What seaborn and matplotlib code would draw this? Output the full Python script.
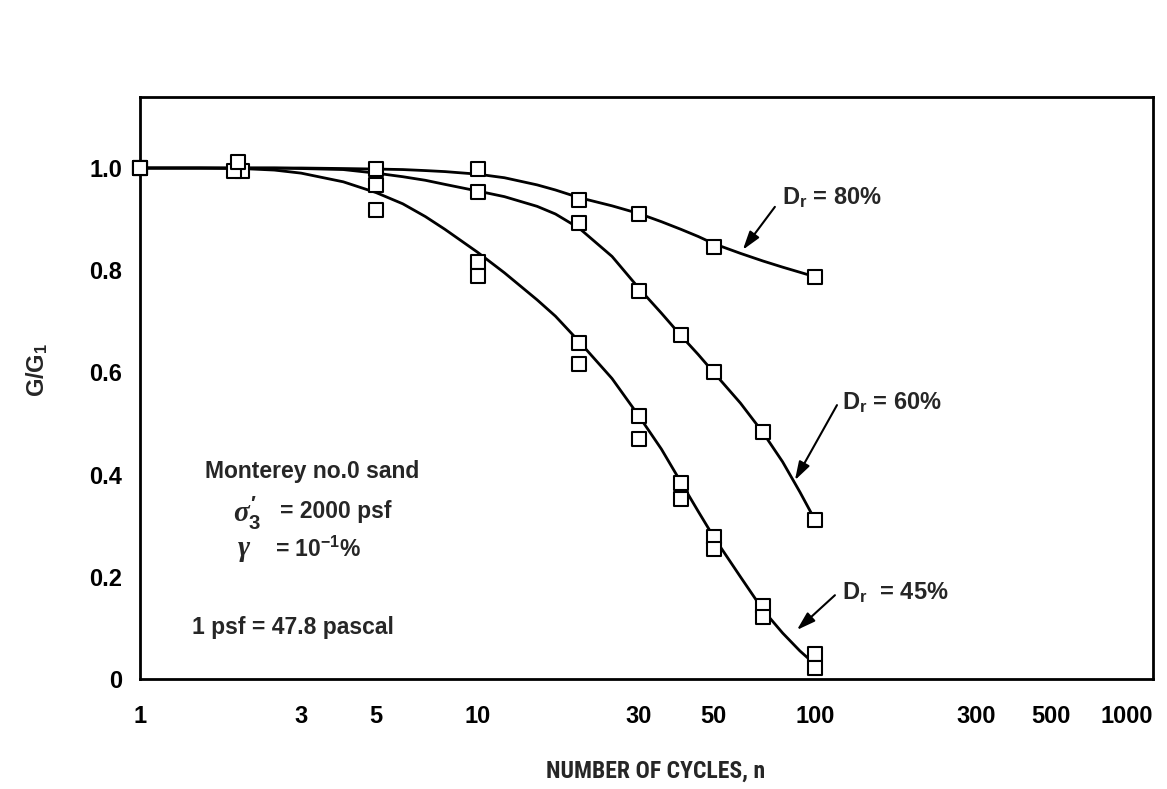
import matplotlib
matplotlib.use("Agg")
import matplotlib.pyplot as plt
import seaborn as sns

# ---- measured points: G/G1 versus number of cycles --------------------------
cycles_80 = [1, 2.0, 5, 10, 20, 30, 50, 100]
g_80 = [1.0, 0.995, 0.998, 0.998, 0.937, 0.910, 0.845, 0.787]

cycles_60 = [1, 1.9, 5, 10, 20, 30, 40, 50, 70, 100]
g_60 = [1.0, 0.995, 0.967, 0.953, 0.892, 0.759, 0.673, 0.601, 0.484, 0.311]

cycles_45 = [1, 1.95, 5, 10, 10, 20, 20, 30, 30, 40, 40, 50, 50, 70, 70, 100, 100]
g_45 = [1.0, 1.012, 0.918, 0.816, 0.789, 0.658, 0.616, 0.515, 0.470,
        0.384, 0.352, 0.278, 0.254, 0.143, 0.121, 0.049, 0.022]

# ---- fitted curves ---------------------------------------------------------
curve_cycles = [1, 1.5, 2, 2.5, 3, 4, 5, 6, 7, 8, 10, 12, 15, 17, 20, 25,
                30, 35, 40, 45, 50, 60, 70, 80, 90, 100]
curve_80 = [1.0, 1.0, 1.0, 1.0, 1.0, 0.999, 0.998, 0.997, 0.995, 0.993,
            0.988, 0.981, 0.967, 0.957, 0.942, 0.926, 0.911, 0.895, 0.880,
            0.866, 0.852, 0.833, 0.818, 0.806, 0.796, 0.787]
curve_60 = [1.0, 1.0, 1.0, 1.0, 0.999, 0.997, 0.990, 0.983, 0.976, 0.968,
            0.955, 0.944, 0.925, 0.910, 0.882, 0.827, 0.765, 0.716, 0.672,
            0.635, 0.600, 0.540, 0.482, 0.425, 0.366, 0.310]
curve_45 = [1.0, 1.0, 0.999, 0.996, 0.990, 0.973, 0.952, 0.930, 0.905,
            0.880, 0.835, 0.795, 0.742, 0.710, 0.660, 0.588, 0.515, 0.450,
            0.385, 0.328, 0.278, 0.200, 0.135, 0.090, 0.055, 0.028]

# ---- axes labels ------------------------------------------------------------
x_major = [1, 10, 100, 1000]
x_major_labels = ["1", "10", "100", "1000"]
x_minor = [3, 5, 30, 50, 300, 500]
x_minor_labels = ["3", "5", "30", "50", "300", "500"]
y_ticks = [0, 0.2, 0.4, 0.6, 0.8, 1.0]
y_tick_labels = ["0", "0.2", "0.4", "0.6", "0.8", "1.0"]

# label text, arrow tail and arrow head for each relative density
dr_labels = [r"D$_{r}$ = 80%", r"D$_{r}$ = 60%", r"D$_{r}$  = 45%"]
dr_label_pos = [(79.7, 0.943), (119.9, 0.542), (119.9, 0.170)]
dr_arrow_tail = [(75.9, 0.924), (115.9, 0.536), (114.3, 0.164)]
dr_arrow_head = [(61.0, 0.840), (87.0, 0.389), (88.2, 0.096)]

NARROW = ["Liberation Sans Narrow", "Roboto Condensed", "Open Sans Condensed",
          "Liberation Sans"]

sns.set_style("white")
plt.rcParams["font.family"] = ["Liberation Sans", "DejaVu Sans"]
plt.rcParams["font.weight"] = "bold"
plt.rcParams["mathtext.fontset"] = "custom"
plt.rcParams["mathtext.rm"] = "Liberation Sans:bold"
plt.rcParams["mathtext.bf"] = "Liberation Sans:bold"
plt.rcParams["mathtext.it"] = "Liberation Serif:italic"
plt.rcParams["mathtext.default"] = "bf"

fig = plt.figure(figsize=(11.67, 7.89), dpi=100)
fig.patch.set_facecolor("white")
ax = fig.add_axes([140 / 1167, 110 / 789, 1013 / 1167, 582 / 789])

ax.set_xscale("log")
ax.set_xlim(1, 1000)
ax.set_ylim(0, 1.139)

for yv in (curve_80, curve_60, curve_45):
    sns.lineplot(x=curve_cycles, y=yv, color="black", linewidth=2.0,
                 sort=False, estimator=None, ax=ax, zorder=2)

for xv, yv in ((cycles_80, g_80), (cycles_60, g_60), (cycles_45, g_45)):
    sns.scatterplot(x=xv, y=yv, marker="s", s=95, color="white",
                    edgecolor="black", linewidth=1.5, ax=ax, zorder=3,
                    clip_on=False)

for text, pos, tail, head in zip(dr_labels, dr_label_pos, dr_arrow_tail, dr_arrow_head):
    ax.text(pos[0], pos[1], text, ha="left", va="center", fontsize=17,
            fontweight="bold")
    ax.annotate("", xy=head, xytext=tail,
                arrowprops=dict(arrowstyle="-|>,head_length=0.7,head_width=0.22",
                                color="black", lw=1.5, shrinkA=0, shrinkB=0,
                                mutation_scale=16))

# test conditions block
ax.text(0.0642, 0.357, "Monterey no.0 sand", transform=ax.transAxes,
        ha="left", va="center", fontsize=16.5)
ax.text(0.0918, 0.285, r"$\mathit{\sigma}_{3}^{\prime}$", transform=ax.transAxes,
        ha="left", va="center", fontsize=21)
ax.text(0.138, 0.287, "= 2000 psf", transform=ax.transAxes,
        ha="left", va="center", fontsize=16.5)
ax.text(0.0958, 0.222, r"$\mathit{\gamma}$", transform=ax.transAxes,
        ha="left", va="center", fontsize=21)
ax.text(0.133, 0.222, r"= 10$^{-1}$%", transform=ax.transAxes,
        ha="left", va="center", fontsize=16.5)
ax.text(0.0513, 0.0893, "1 psf = 47.8 pascal", transform=ax.transAxes,
        ha="left", va="center", fontsize=16.5)

# ticks and labels
ax.set_xticks(x_major, labels=x_major_labels)
ax.set_xticks(x_minor, labels=x_minor_labels, minor=True)
ax.set_yticks(y_ticks, labels=y_tick_labels)
ax.tick_params(axis="x", which="major", direction="in", length=14, width=1.5,
               pad=19, labelsize=17, colors="black")
ax.tick_params(axis="x", which="minor", direction="in", length=8, width=1.5,
               pad=19, labelsize=17, colors="black")
ax.tick_params(axis="y", which="major", direction="in", length=8, width=1.5,
               pad=13, labelsize=17, colors="black")
ax.tick_params(axis="y", which="minor", left=False)
# keep the last x label inside the figure
ax.get_xticklabels()[-1].set_horizontalalignment("right")

ax.set_xlabel("NUMBER OF CYCLES, n", fontsize=17, fontweight="bold",
              family=NARROW, fontstretch="condensed")
ax.xaxis.set_label_coords(0.509, -0.139)
ax.set_ylabel(r"G/G$_{1}$", fontsize=17, fontweight="bold")
ax.yaxis.set_label_coords(-0.0888, 0.531)

for spine in ax.spines.values():
    spine.set_visible(True)
    spine.set_color("black")
    spine.set_linewidth(2.0)

ax.grid(False)
fig.savefig("out.png", dpi=100, facecolor="white")
